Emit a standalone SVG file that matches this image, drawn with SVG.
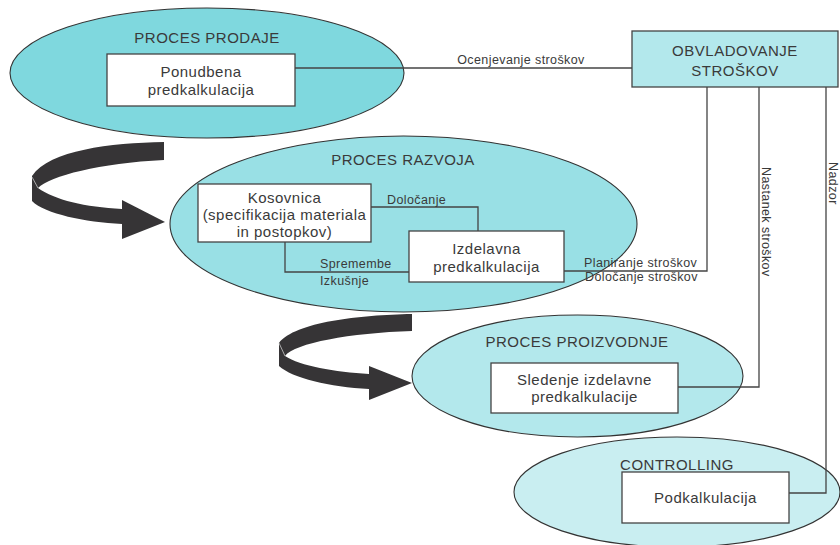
<svg xmlns="http://www.w3.org/2000/svg" width="840" height="545" viewBox="0 0 840 545">
<style>
text{font-family:"Liberation Sans",Arial,Helvetica,sans-serif;fill:#3a3a3a;}
.t{font-size:15px;letter-spacing:0.5px;text-anchor:middle;}
.s{font-size:12.5px;letter-spacing:0.4px;}
.ell{stroke:#333;stroke-width:1.1;}
.box{fill:#fff;stroke:#444;stroke-width:1.3;}
.con{fill:none;stroke:#444;stroke-width:1.3;}
.arr{fill:#363436;}
.tw{stroke:#c8c8c8;stroke-width:0.8;fill:none;}
</style>
<rect width="840" height="545" fill="#fff"/>
<g id="arrows">
<path class="arr" d="M164,142 C110,143 50,150 32,176 L32,201 C45,214 85,222 122,224 L122,239 L165,222 L122,200 L122,209 C85,207 55,200 38,188 C50,176 100,163 164,160 Z"/>
<path class="tw" d="M32,177 L38,188"/>
<path class="arr" d="M412,314 C360,315 295,322 279,343 L279,366 C292,378 330,387 369,389 L369,400 L412,383 L369,366 L369,374 C335,372 300,366 285,356 C295,343 350,333 412,331 Z"/>
<path class="tw" d="M279,343 L285,356"/>
</g>
<g id="proces-prodaje">
<ellipse class="ell" cx="207" cy="73" rx="197" ry="65" fill="#7fd8de"/>
<text class="t" x="207" y="43">PROCES PRODAJE</text>
</g>
<g id="ponudbena">
<rect class="box" x="107" y="54" width="188" height="52"/>
<text class="t" x="201" y="77">Ponudbena</text>
<text class="t" x="201" y="95">predkalkulacija</text>
</g>
<g id="proces-razvoja">
<ellipse class="ell" cx="403.5" cy="224" rx="233.5" ry="88" fill="#99e0e5"/>
<text class="t" x="403" y="165">PROCES RAZVOJA</text>
</g>
<g id="proces-proizvodnje">
<ellipse class="ell" cx="577.5" cy="376" rx="165.5" ry="61" fill="#b3e8ec"/>
<text class="t" x="577" y="347">PROCES PROIZVODNJE</text>
</g>
<g id="controlling">
<ellipse class="ell" cx="677" cy="492" rx="163" ry="55" fill="#c9eef1"/>
<text class="t" x="677" y="470">CONTROLLING</text>
</g>
<g id="connectors">
<path class="con" d="M295,68 H632"/>
<path class="con" d="M371,207 H478 V231"/>
<path class="con" d="M285,242 V272 H409"/>
<path class="con" d="M564,271 H707 V87"/>
<path class="con" d="M678,387 H759 V87"/>
<path class="con" d="M789,493 H826 V87"/>
<text class="s" x="521" y="64" text-anchor="middle">Ocenjevanje stroškov</text>
<text class="s" x="387" y="204">Določanje</text>
<text class="s" x="320" y="268">Spremembe</text>
<text class="s" x="320" y="285">Izkušnje</text>
<text class="s" x="584" y="267">Planiranje stroškov</text>
<text class="s" x="585" y="281">Določanje stroškov</text>
<text class="s" transform="translate(762,167) rotate(90)">Nastanek stroškov</text>
<text class="s" transform="translate(829,162) rotate(90)">Nadzor</text>
</g>
<g id="obvladovanje">
<rect x="632" y="31" width="206" height="56" fill="#b3e8ec" stroke="#444" stroke-width="1.3"/>
<text class="t" x="735" y="56">OBVLADOVANJE</text>
<text class="t" x="735" y="76">STROŠKOV</text>
</g>
<g id="kosovnica">
<rect class="box" x="198" y="184" width="173" height="58"/>
<text class="t" x="284.5" y="203">Kosovnica</text>
<text class="t" x="284.5" y="220">(specifikacija materiala</text>
<text class="t" x="284.5" y="237">in postopkov)</text>
</g>
<g id="izdelavna">
<rect class="box" x="409" y="231" width="155" height="51"/>
<text class="t" x="486.5" y="254">Izdelavna</text>
<text class="t" x="486.5" y="272">predkalkulacija</text>
</g>
<g id="sledenje">
<rect class="box" x="491" y="363" width="187" height="50"/>
<text class="t" x="584.5" y="385">Sledenje izdelavne</text>
<text class="t" x="584.5" y="402">predkalkulacije</text>
</g>
<g id="podkalkulacija">
<rect class="box" x="622" y="472" width="167" height="51"/>
<text class="t" x="705.5" y="503">Podkalkulacija</text>
</g>
</svg>
